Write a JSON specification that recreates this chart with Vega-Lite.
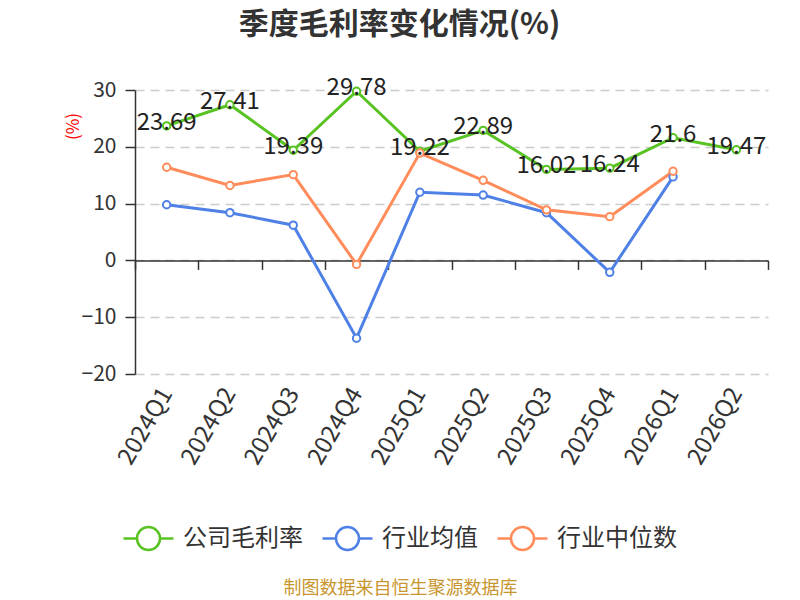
{
  "$schema": "https://vega.github.io/schema/vega-lite/v6.json",
  "width": 633,
  "height": 284,
  "autosize": {"type": "none"},
  "padding": {"left": 135, "top": 90, "right": 32, "bottom": 226},
  "background": "white",
  "config": {"font": "Noto Sans CJK SC", "view": {"stroke": null}},
  "title": {"text": "季度毛利率变化情况(%)", "fontSize": 30, "fontWeight": "bold", "color": "#333333", "anchor": "middle", "dx": -52, "offset": 36},
  "data": {
    "values": [
      {"q": "2024Q1", "s": "公司毛利率", "v": 23.69},
      {"q": "2024Q2", "s": "公司毛利率", "v": 27.41},
      {"q": "2024Q3", "s": "公司毛利率", "v": 19.39},
      {"q": "2024Q4", "s": "公司毛利率", "v": 29.78},
      {"q": "2025Q1", "s": "公司毛利率", "v": 19.22},
      {"q": "2025Q2", "s": "公司毛利率", "v": 22.89},
      {"q": "2025Q3", "s": "公司毛利率", "v": 16.02},
      {"q": "2025Q4", "s": "公司毛利率", "v": 16.24},
      {"q": "2026Q1", "s": "公司毛利率", "v": 21.6},
      {"q": "2026Q2", "s": "公司毛利率", "v": 19.47},
      {"q": "2024Q1", "s": "行业均值", "v": 9.8},
      {"q": "2024Q2", "s": "行业均值", "v": 8.4},
      {"q": "2024Q3", "s": "行业均值", "v": 6.2},
      {"q": "2024Q4", "s": "行业均值", "v": -13.7},
      {"q": "2025Q1", "s": "行业均值", "v": 12.0},
      {"q": "2025Q2", "s": "行业均值", "v": 11.5},
      {"q": "2025Q3", "s": "行业均值", "v": 8.4},
      {"q": "2025Q4", "s": "行业均值", "v": -2.1},
      {"q": "2026Q1", "s": "行业均值", "v": 14.7},
      {"q": "2024Q1", "s": "行业中位数", "v": 16.4},
      {"q": "2024Q2", "s": "行业中位数", "v": 13.2},
      {"q": "2024Q3", "s": "行业中位数", "v": 15.1},
      {"q": "2024Q4", "s": "行业中位数", "v": -0.7},
      {"q": "2025Q1", "s": "行业中位数", "v": 18.9},
      {"q": "2025Q2", "s": "行业中位数", "v": 14.1},
      {"q": "2025Q3", "s": "行业中位数", "v": 8.9},
      {"q": "2025Q4", "s": "行业中位数", "v": 7.7},
      {"q": "2026Q1", "s": "行业中位数", "v": 15.7}
    ]
  },
  "encoding": {
    "x": {
      "field": "q",
      "type": "ordinal",
      "sort": null,
      "scale": {"paddingInner": 0, "paddingOuter": 0},
      "axis": {
        "title": "制图数据来自恒生聚源数据库",
        "titleX": 265,
        "titleY": 327.6,
        "titleAlign": "center",
        "titleBaseline": "middle",
        "titleAngle": 0,
        "titleFontSize": 18,
        "titleFontWeight": "normal",
        "titleColor": "#c8962e",
        "offset": -113.6,
        "domainColor": "#333333",
        "domainWidth": 1.5,
        "tickColor": "#333333",
        "tickWidth": 1.5,
        "tickSize": 9,
        "tickBand": "extent",
        "labelAngle": -60,
        "labelAlign": "right",
        "labelBaseline": "middle",
        "labelFontSize": 24,
        "labelColor": "#333333",
        "labelPadding": 120,
        "grid": false
      }
    },
    "y": {
      "field": "v",
      "type": "quantitative",
      "scale": {"domain": [-20, 30], "nice": false, "zero": false},
      "axis": {
        "title": "(%)",
        "titleColor": "red",
        "titleFontSize": 17,
        "titleFontWeight": "normal",
        "titleX": -62,
        "titleY": 36,
        "titleAngle": -90,
        "titleAlign": "center",
        "titleBaseline": "middle",
        "values": [-20, -10, 0, 10, 20, 30],
        "domainColor": "#333333",
        "domainWidth": 1.5,
        "tickColor": "#333333",
        "tickWidth": 1.5,
        "tickSize": 10,
        "labelFontSize": 21,
        "labelColor": "#333333",
        "labelPadding": 9,
        "gridColor": "#cccccc",
        "gridDash": [9, 6],
        "gridWidth": 1.5
      }
    },
    "color": {
      "field": "s",
      "type": "nominal",
      "sort": ["公司毛利率", "行业均值", "行业中位数"],
      "scale": {"domain": ["公司毛利率", "行业均值", "行业中位数"], "range": ["#58c322", "#4e80e6", "#ff8c5a"]},
      "legend": {
        "orient": "none",
        "legendX": -13,
        "legendY": 422,
        "direction": "horizontal",
        "title": null,
        "symbolType": "M-1,0L-0.46,0M0.46,0L1,0M-0.46,0A0.46,0.46,0,1,1,0.46,0A0.46,0.46,0,1,1,-0.46,0",
        "symbolSize": 2500,
        "symbolStrokeWidth": 2.5,
        "symbolFillColor": "white",
        "labelFontSize": 24,
        "labelColor": "#333333",
        "labelOffset": 8,
        "columnPadding": 14
      }
    }
  },
  "layer": [
    {"mark": {"type": "line", "strokeWidth": 3}},
    {"mark": {"type": "point", "shape": "circle", "filled": false, "fill": "white", "strokeWidth": 2, "size": 55, "opacity": 1}},
    {
      "transform": [{"filter": "datum.s === '公司毛利率'"}],
      "mark": {"type": "text", "fontSize": 24, "dy": -3, "baseline": "middle", "align": "center"},
      "encoding": {"text": {"field": "v", "type": "nominal"}, "color": {"value": "#222222"}}
    }
  ]
}
